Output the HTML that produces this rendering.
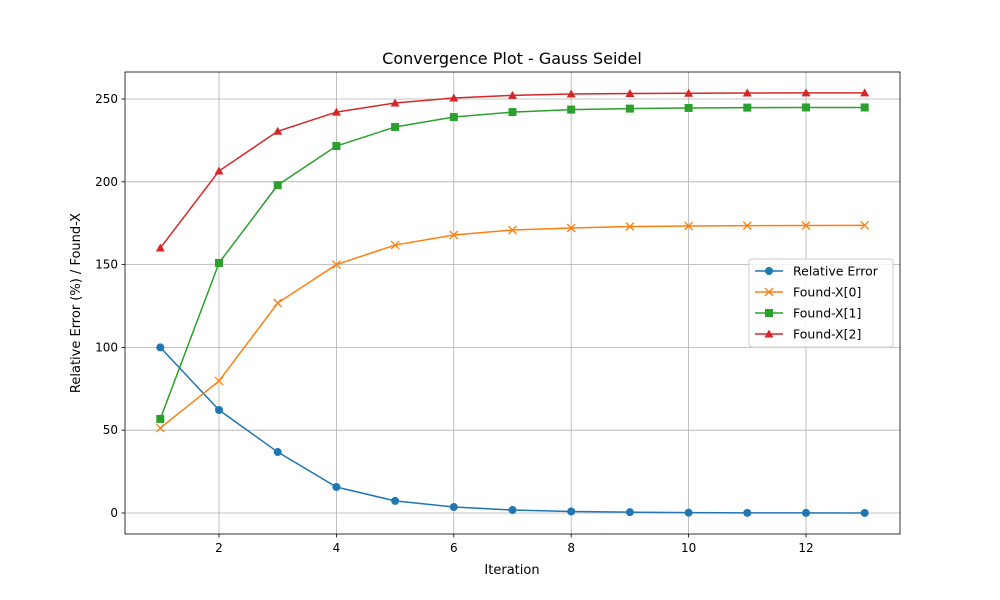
<!DOCTYPE html>
<html><head><meta charset="utf-8"><style>body{margin:0;background:#fff}svg{display:block;font-family:"DejaVu Sans","Liberation Sans",sans-serif}</style></head>
<body>
<svg id="chart" width="1000" height="600"></svg>
<script>
const iterations=[1,2,3,4,5,6,7,8,9,10,11,12,13];
const relError=[100,62.2,36.8,15.7,7.3,3.6,1.8,0.9,0.5,0.2,0.1,0.05,0.02];
const foundX0=[51.3,79.7,126.8,150,161.8,167.9,170.9,172.1,173,173.3,173.5,173.6,173.7];
const foundX1=[56.8,151,198,221.6,233.1,239.1,242.1,243.6,244.2,244.6,244.8,244.9,244.9];
const foundX2=[160,206.5,230.5,242.1,247.6,250.6,252.2,253,253.3,253.5,253.6,253.7,253.7];
const xTicks=[2,4,6,8,10,12];
const yTicks=[0,50,100,150,200,250];
const seriesNames=["Relative Error","Found-X[0]","Found-X[1]","Found-X[2]"];
const NS="http://www.w3.org/2000/svg";
const svg=document.getElementById('chart');
const L=125,R=900,T=72,B=534;
const xs=v=>160.3+(v-1)*58.7;
const ys=v=>513-v*1.656;
function mk(t,a,p){const e=document.createElementNS(NS,t);for(const k in a)e.setAttribute(k,a[k]);(p||svg).appendChild(e);return e;}
const title=mk('text',{x:512,y:64,'text-anchor':'middle','font-size':16,fill:'#000'});title.textContent='Convergence Plot - Gauss Seidel';


const grid=mk('g',{});


xTicks.forEach(v=>{const x=xs(v);mk('line',{x1:x,x2:x,y1:T,y2:B,stroke:'#b0b0b0','stroke-width':0.8},grid);
mk('line',{x1:x,x2:x,y1:B,y2:B+3.5,stroke:'#000','stroke-width':0.8});
const t=mk('text',{x:x,y:B+18,'text-anchor':'middle','font-size':12});t.textContent=v;

});
yTicks.forEach(v=>{const y=ys(v);mk('line',{x1:L,x2:R,y1:y,y2:y,stroke:'#b0b0b0','stroke-width':0.8},grid);
mk('line',{x1:L-3.5,x2:L,y1:y,y2:y,stroke:'#000','stroke-width':0.8});
const t=mk('text',{x:L-7,y:y+4,'text-anchor':'end','font-size':12});t.textContent=v;

});
const colors=['#1f77b4','#ff7f0e','#2ca02c','#d62728'];
const markers=['circle','x','square','triangle'];
function marker(type,x,y,c,g){
 if(type==='circle')mk('circle',{cx:x,cy:y,r:4,fill:c},g);
 else if(type==='square')mk('rect',{x:x-4,y:y-4,width:8,height:8,fill:c},g);
 else if(type==='triangle')mk('polygon',{points:`${x},${y-4.5} ${x+4.5},${y+3.5} ${x-4.5},${y+3.5}`,fill:c},g);
 else mk('path',{d:`M${x-4},${y-4}L${x+4},${y+4}M${x-4},${y+4}L${x+4},${y-4}`,stroke:c,'stroke-width':1.3},g);
}
[relError,foundX0,foundX1,foundX2].forEach((s,i)=>{
 const g=mk('g',{});
 
 
 mk('polyline',{points:s.map((v,j)=>xs(iterations[j])+','+ys(v)).join(' '),fill:'none',stroke:colors[i],'stroke-width':1.5},g);
 s.forEach((v,j)=>marker(markers[i],xs(iterations[j]),ys(v),colors[i],g));
});
mk('rect',{x:L,y:T,width:R-L,height:B-T,fill:'none',stroke:'#000','stroke-width':0.8});
const xl=mk('text',{x:512,y:574,'text-anchor':'middle','font-size':13});xl.textContent='Iteration';


const yl=mk('text',{x:0,y:0,'text-anchor':'middle','font-size':13,transform:'translate(80,303) rotate(-90)'});yl.textContent='Relative Error (%) / Found-X';


const lg=mk('g',{});


mk('rect',{x:749,y:259,width:144,height:88,rx:3,fill:'#fff','fill-opacity':0.8,stroke:'#ccc'},lg);
seriesNames.forEach((n,i)=>{const y=271+i*21;
 mk('line',{x1:755,x2:783,y1:y,y2:y,stroke:colors[i],'stroke-width':1.5},lg);
 marker(markers[i],769,y,colors[i],lg);
 const t=mk('text',{x:793,y:y+4.5,'font-size':12.5},lg);t.textContent=n;
 
 });
</script>
</body></html>
